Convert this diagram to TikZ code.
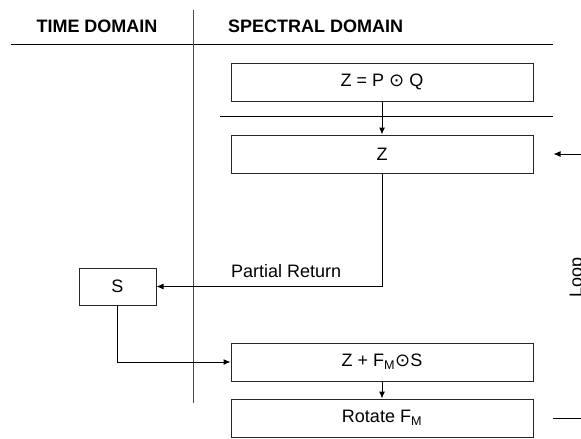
\documentclass[tikz,border=0pt]{standalone}
\usepackage{fontspec}
\setmainfont{Liberation Sans}
\newfontfamily\opfont{DejaVu Sans}
\newcommand{\hprod}{{\opfont\char"2299}}
\usetikzlibrary{arrows.meta}
\begin{document}
\begin{tikzpicture}[x=1pt,y=-1pt,
  font=\fontsize{18}{21}\selectfont,
  blk/.style={draw=black!85, line width=1pt, minimum width=302pt, minimum height=38pt, inner sep=0pt},
  sbox/.style={draw=black!85, line width=1pt, minimum width=77pt, minimum height=37pt, inner sep=0pt},
  rule/.style={draw=black, line width=1pt},
  divider/.style={draw=black!70, line width=1pt},
  flow/.style={draw=black, line width=1pt, -{Latex[length=7pt,width=6pt]}},
  plain/.style={draw=black, line width=1pt}
]
\useasboundingbox (0,0) rectangle (581,439);

% column headers and separators
\node[font=\fontsize{18}{21}\selectfont\bfseries] (thead) at (97,26) {TIME DOMAIN};
\node[font=\fontsize{18}{21}\selectfont\bfseries, anchor=west, inner sep=0pt] (shead) at (228,26) {SPECTRAL DOMAIN};
\coordinate (hl1) at (11,44);   \coordinate (hr1) at (553,44);
\coordinate (hl2) at (220,116); \coordinate (hr2) at (553,116);
\coordinate (vt) at (193,10);   \coordinate (vb) at (193,403);
\draw[rule] (hl1) -- (hr1);
\draw[rule] (hl2) -- (hr2);
\draw[divider] (vt) -- (vb);

% processing blocks
\node[blk] (prod) at (382,82) {Z = P \hprod{} Q};
\node[blk] (z) at (382,154) {Z};
\node[sbox] (s) at (117.5,286.5) {S};
\node[blk] (acc) at (382,362) {Z + F\textsubscript{M}\hprod{}S};
\node[blk] (rot) at (382,418) {Rotate F\textsubscript{M}};

% flow between blocks
\draw[flow] (prod) -- (z);
\draw[flow] (z.south) |- (s.east);
\node[anchor=base west, inner sep=0pt] (pr) at (231,277) {Partial Return};
\draw[flow] (s.south) |- (acc.west);
\draw[flow] (acc) -- (rot);

% loop back edge
\coordinate (loopin) at (581,154);
\coordinate (loopinend) at ([xshift=20pt]z.east);
\coordinate (loopout) at ([xshift=19pt]rot.east);
\coordinate (loopoutend) at (581,418);
\draw[flow] (loopin) -- (loopinend);
\draw[plain] (loopout) -- (loopoutend);
\node[rotate=90, anchor=base, inner sep=0pt] (looplbl) at (582,277) {Loop};
\end{tikzpicture}
\end{document}
